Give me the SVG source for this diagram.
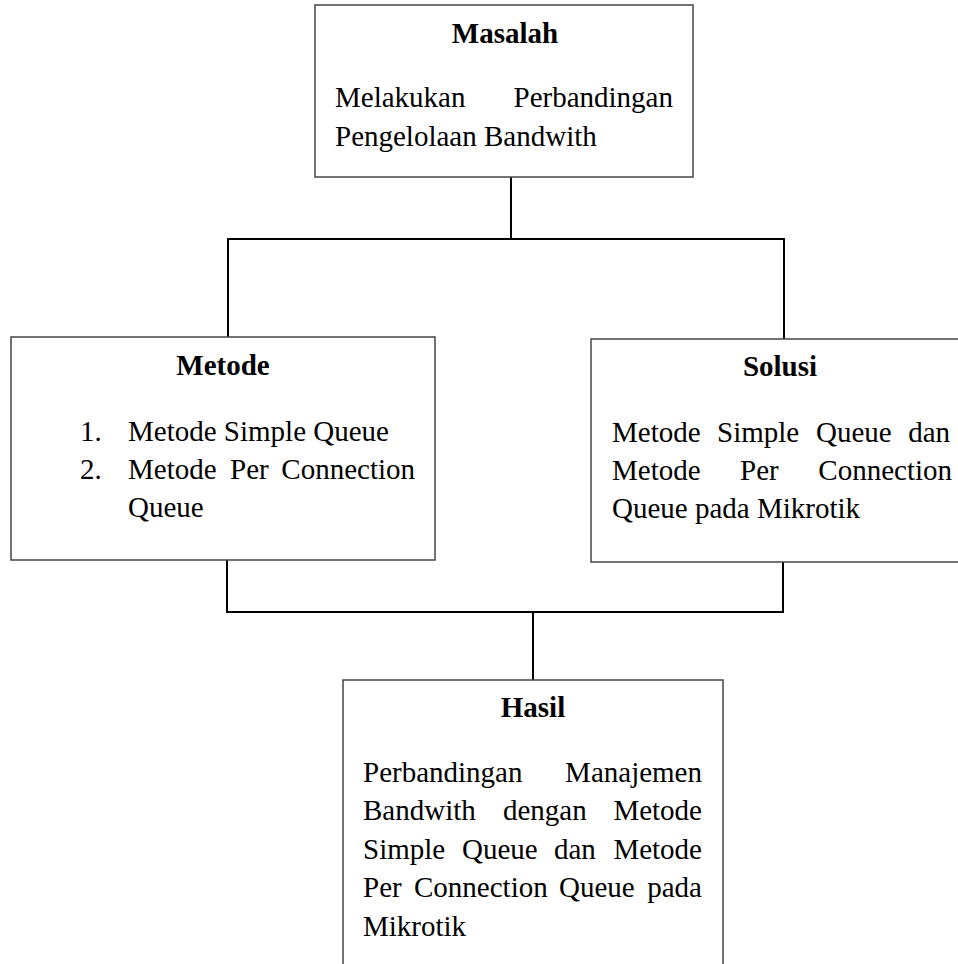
<svg xmlns="http://www.w3.org/2000/svg" width="958" height="964" viewBox="0 0 958 964">
<style>
.box{fill:#fff;stroke:#444;stroke-width:1.5}
.con{fill:none;stroke:#000;stroke-width:2}
text{font-family:"Liberation Serif","Times New Roman",serif;font-size:29px;fill:#000}
.t{font-weight:bold;text-anchor:middle}
.e{text-anchor:end}
</style>
<rect width="958" height="964" fill="#fff"/>
<g id="connectors">
<polyline class="con" points="511,177 511,239"/>
<polyline class="con" points="228,337 228,239 784,239 784,339"/>
<polyline class="con" points="227,560 227,612 783,612 783,562"/>
<polyline class="con" points="533,612 533,680"/>
</g>
<g id="masalah">
<rect class="box" x="315" y="5" width="378" height="172"/>
<text class="t" x="505" y="43">Masalah</text>
<text x="335" y="107">Melakukan</text>
<text class="e" x="673" y="107">Perbandingan</text>
<text x="335" y="146">Pengelolaan Bandwith</text>
</g>
<g id="metode">
<rect class="box" x="11" y="337" width="424" height="223"/>
<text class="t" x="223" y="375">Metode</text>
<text x="80" y="441">1.</text>
<text x="128" y="441">Metode Simple Queue</text>
<text x="80" y="479">2.</text>
<text x="128" y="479">Metode</text>
<text x="230" y="479">Per</text>
<text class="e" x="415" y="479">Connection</text>
<text x="128" y="517">Queue</text>
</g>
<g id="solusi">
<rect class="box" x="591" y="339" width="380" height="223"/>
<text class="t" x="780" y="376">Solusi</text>
<text x="612" y="442">Metode</text>
<text x="717" y="442">Simple</text>
<text x="816" y="442">Queue</text>
<text class="e" x="950" y="442">dan</text>
<text x="612" y="480">Metode</text>
<text x="740" y="480">Per</text>
<text class="e" x="952" y="480">Connection</text>
<text x="612" y="518">Queue pada Mikrotik</text>
</g>
<g id="hasil">
<rect class="box" x="343" y="680" width="380" height="300"/>
<text class="t" x="533" y="717">Hasil</text>
<text x="363" y="782">Perbandingan</text>
<text class="e" x="702" y="782">Manajemen</text>
<text x="363" y="820">Bandwith</text>
<text x="503" y="820">dengan</text>
<text class="e" x="702" y="820">Metode</text>
<text x="363" y="859">Simple</text>
<text x="462" y="859">Queue</text>
<text x="554" y="859">dan</text>
<text class="e" x="702" y="859">Metode</text>
<text x="363" y="897">Per</text>
<text x="414" y="897">Connection</text>
<text x="559" y="897">Queue</text>
<text class="e" x="702" y="897">pada</text>
<text x="363" y="936">Mikrotik</text>
</g>
</svg>
